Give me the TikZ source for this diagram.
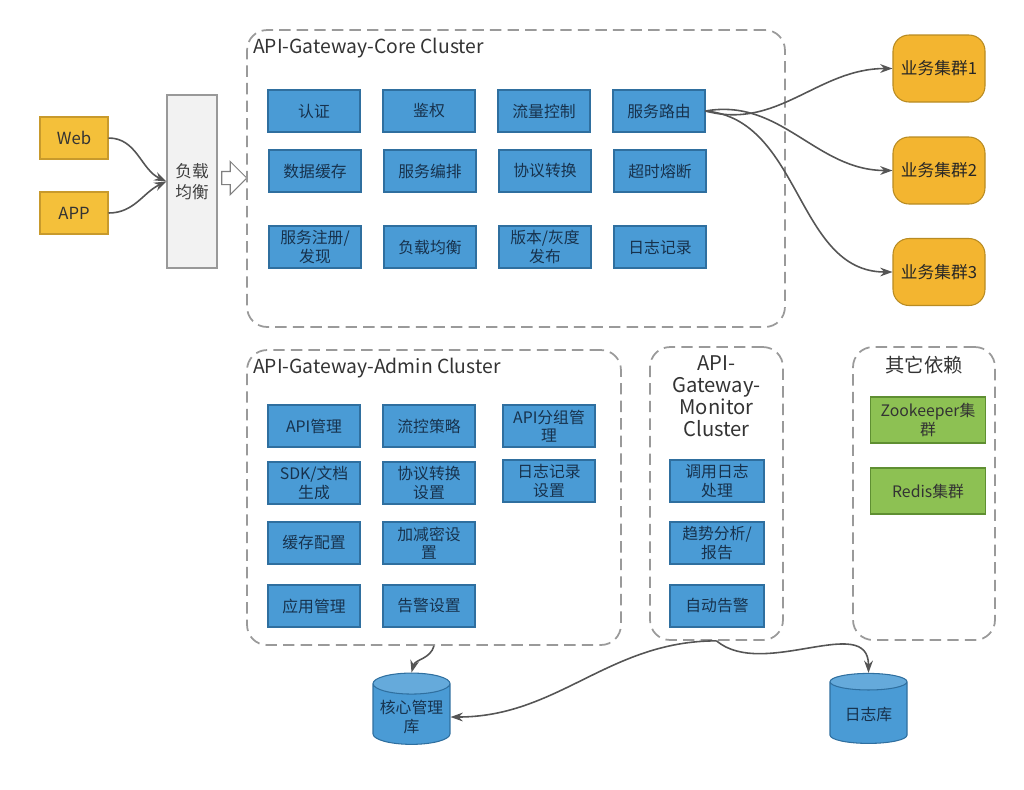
\documentclass[tikz,border=0pt]{standalone}
\usepackage{fontspec}
\setmainfont{Noto Sans CJK SC}
\usetikzlibrary{shapes.geometric,shapes.arrows,arrows.meta}
\definecolor{boxblue}{HTML}{4A9BD5}
\definecolor{boxblueline}{HTML}{2F6F9F}
\definecolor{boxtext}{HTML}{17324D}
\definecolor{clientyellow}{HTML}{F4C03A}
\definecolor{clientline}{HTML}{C89A2C}
\definecolor{bizorange}{HTML}{F3B530}
\definecolor{bizline}{HTML}{B88B22}
\definecolor{depgreen}{HTML}{8DC153}
\definecolor{depline}{HTML}{5F8F32}
\definecolor{dashgray}{HTML}{9A9A9A}
\definecolor{linkgray}{HTML}{555555}
\tikzset{
  func/.style={rectangle, draw=boxblueline, fill=boxblue, text=boxtext, line width=0.6pt,
    minimum width=1.84cm, minimum height=0.84cm, inner sep=1pt, align=center,
    font=\fontsize{9}{10.5}\selectfont},
  client/.style={rectangle, draw=clientline, fill=clientyellow, text=black!80, line width=0.6pt,
    minimum width=1.36cm, minimum height=0.84cm, font=\fontsize{9.5}{11}\selectfont},
  biz/.style={rectangle, rounded corners=0.32cm, draw=bizline, fill=bizorange, text=black!85,
    line width=0.6pt, minimum width=1.84cm, minimum height=1.34cm, font=\fontsize{9.5}{11}\selectfont},
  dep/.style={rectangle, draw=depline, fill=depgreen, text=black!80, line width=0.6pt,
    minimum width=2.3cm, minimum height=0.92cm, align=center, font=\fontsize{9}{10.5}\selectfont},
  cluster/.style={rectangle, rounded corners=0.4cm, draw=dashgray, line width=1pt,
    dash pattern=on 6.5pt off 3.5pt},
  title/.style={text=black!80, font=\fontsize{11}{13}\selectfont, inner sep=1pt},
  db/.style={cylinder, shape border rotate=90, aspect=0.28, draw=boxblueline, line width=0.6pt,
    cylinder uses custom fill, cylinder body fill=boxblue, cylinder end fill=boxblue!85!white,
    minimum width=1.54cm, minimum height=1.4cm, text=boxtext, align=center,
    font=\fontsize{9}{10.5}\selectfont},
  link/.style={draw=linkgray, line width=0.9pt, -{Stealth[length=7pt,width=5pt]}}
}
\begin{document}
\begin{tikzpicture}[x=0.02cm, y=-0.02cm]
\useasboundingbox (0,0) rectangle (1024,789);

% clients and load balancer
\node[client] (web) at (74,138) {Web};
\node[client] (app) at (74,213) {APP};
\node[rectangle, draw=black!40, fill=black!5, text=black!75, line width=0.6pt,
  minimum width=1.0cm, minimum height=3.46cm, align=center,
  font=\fontsize{9.5}{12}\selectfont] (lb) at (192,181.5) {负载\\均衡};
\node[single arrow, draw=black!50, fill=white, line width=0.6pt, inner xsep=0pt, inner ysep=0.12cm,
  minimum width=0.64cm, minimum height=0.5cm, single arrow head extend=0.2cm] (lbarrow) at (231,178) {};

% core cluster
\node[cluster, minimum width=10.76cm, minimum height=5.94cm] (core) at (516,178.5) {};
\node[title, anchor=north west] (coretitle) at (251,36) {API-Gateway-Core Cluster};
\node[func] (auth)     at (314,111) {认证};
\node[func] (acl)      at (429,111) {鉴权};
\node[func] (flow)     at (544,111) {流量控制};
\node[func] (route)    at (659,111) {服务路由};
\node[func] (cache)    at (315,171) {数据缓存};
\node[func] (orch)     at (430,171) {服务编排};
\node[func] (proto)    at (545,171) {协议转换};
\node[func] (fuse)     at (660,171) {超时熔断};
\node[func] (reg)      at (315,247) {服务注册/\\发现};
\node[func] (balance)  at (430,247) {负载均衡};
\node[func] (gray)     at (545,247) {版本/灰度\\发布};
\node[func] (log)      at (660,247) {日志记录};

% business clusters
\node[biz] (biz1) at (939,68.5)  {业务集群1};
\node[biz] (biz2) at (939,170.5) {业务集群2};
\node[biz] (biz3) at (939,272)   {业务集群3};

% admin cluster
\node[cluster, minimum width=7.48cm, minimum height=5.9cm] (admin) at (434,497.5) {};
\node[title, anchor=north west] (admintitle) at (251,356) {API-Gateway-Admin Cluster};
\node[func] (apimgr)   at (314,426) {API管理};
\node[func] (flowpol)  at (429,426) {流控策略};
\node[func] (apigroup) at (549,426) {API分组管\\理};
\node[func] (sdk)      at (314,483) {SDK/文档\\生成};
\node[func] (protoset) at (429,483) {协议转换\\设置};
\node[func] (logset)   at (549,481) {日志记录\\设置};
\node[func] (cacheset) at (314,543) {缓存配置};
\node[func] (crypt)    at (429,543) {加减密设\\置};
\node[func] (appmgr)   at (314,606) {应用管理};
\node[func] (alarmset) at (429,606) {告警设置};

% monitor cluster
\node[cluster, minimum width=2.66cm, minimum height=5.86cm] (monitor) at (716.5,493.5) {};
\node[title, anchor=north, align=center, font=\fontsize{11.5}{12.5}\selectfont] (montitle) at (716.5,354)
  {API-\\Gateway-\\Monitor\\Cluster};
\node[func, minimum width=1.88cm] (calllog) at (717,481) {调用日志\\处理};
\node[func, minimum width=1.88cm] (trend)   at (717,543) {趋势分析/\\报告};
\node[func, minimum width=1.88cm] (alarm)   at (717,606) {自动告警};

% other dependencies
\node[cluster, minimum width=2.84cm, minimum height=5.86cm] (others) at (924,493.5) {};
\node[title, anchor=north] (othtitle) at (924,354) {其它依赖};
\node[dep] (zk)    at (928,420) {Zookeeper集\\群};
\node[dep] (redis) at (928,491) {Redis集群};

% databases
\node[db] (coredb) at (411.5,717) {核心管理\\库};
\node[db] (logdb)  at (868.5,715) {日志库};

% connectors
\draw[link] (web.east) to[out=0, in=155] (lb.west);
\draw[link] (app.east) to[out=0, in=205] (lb.west);
\draw[link] (route.east) to[out=-15, in=180] (biz1.west);
\draw[link] (route.east) to[out=10, in=180] (biz2.west);
\draw[link] (route.east) to[out=-5, in=180] (biz3.west);
\draw[link] (admin.south) to[out=-105, in=75] (coredb.north);
\draw[link] (monitor.south) to[out=180, in=0] (coredb.east);
\draw[link] (monitor.south) to[out=-40, in=90] (logdb.north);
\end{tikzpicture}
\end{document}
